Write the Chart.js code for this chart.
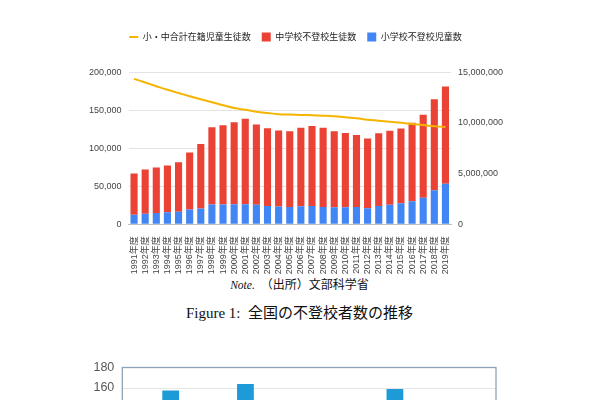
<!DOCTYPE html>
<html lang="ja">
<head>
<meta charset="utf-8">
<script src="https://cdn.jsdelivr.net/npm/chart.js@4.4.1/dist/chart.umd.min.js"></script>
<style>
  html, body { margin: 0; padding: 0; width: 599px; height: 400px; overflow: hidden; background: #fff; }
  #mainBox { position: absolute; left: 0; top: 0; width: 599px; height: 275px; }
  #subBox { position: absolute; left: 0; top: 351.5px; width: 599px; height: 220px; }
  .txt { position: absolute; left: 0; width: 599px; text-align: center; color: #111;
         font-family: "Liberation Serif", "DejaVu Serif", "Noto Sans CJK JP", serif; }
  .note { top: 275px; font-size: 12px; }
  .note i { font-size: 11.5px; }
  .cap { top: 301px; font-size: 15px; }
</style>
</head>
<body>
<div id="mainBox"><canvas id="main"></canvas></div>
<div class="txt note"><i>Note.</i>&nbsp; （出所）文部科学省</div>
<div class="txt cap">Figure 1:&nbsp; 全国の不登校者数の推移</div>
<div id="subBox"><canvas id="sub"></canvas></div>
<script>
// ===== データ =====
const years = ['1991年度','1992年度','1993年度','1994年度','1995年度','1996年度','1997年度','1998年度','1999年度','2000年度',
               '2001年度','2002年度','2003年度','2004年度','2005年度','2006年度','2007年度','2008年度','2009年度','2010年度',
               '2011年度','2012年度','2013年度','2014年度','2015年度','2016年度','2017年度','2018年度','2019年度'];

// 小学校不登校児童数
const elementary = [12645, 13710, 14769, 15786, 16569, 19498, 20765, 26017, 26047, 26373,
                    26511, 25869, 24077, 23318, 22709, 23825, 23927, 22652, 22327, 22463,
                    22622, 21243, 24175, 25864, 27583, 30448, 35032, 44841, 53350];

// 中学校不登校生徒数
const juniorHigh = [54172, 58421, 60039, 61663, 65022, 74853, 84701, 101675, 104180, 107913,
                    112211, 105383, 102149, 100040, 99578, 103069, 105328, 104153, 100105, 97428,
                    94836, 91446, 95442, 97033, 98408, 103235, 108999, 119687, 127922];

// 小・中合計在籍児童生徒数
const enrolled = [14345743, 13984066, 13619018, 13264037, 12940636, 12633029, 12336867, 12044137, 11744079, 11469796,
                  11288831, 11102176, 10975229, 10864446, 10823873, 10789901, 10747426, 10714159, 10663929, 10551542,
                  10461113, 10317282, 10213102, 10104340, 10008319, 9889544, 9781992, 9679537, 9586687];

const legendOrder = ['小・中合計在籍児童生徒数', '中学校不登校生徒数', '小学校不登校児童数'];

// 下の図（上端だけが見えている）
const subCategories = ['1', '2', '3', '4', '5'];
const subHidden = [null, null, null, null, null];       // 見えない系列
const subValues = [157.5, 164, null, 159, null];         // 見えている青い棒

const fontFamily = '"Liberation Sans", "Noto Sans CJK JP", sans-serif';

// ===== メインのグラフ =====
new Chart(document.getElementById('main'), {
    data: {
        labels: years,
        datasets: [
            {
                type: 'line',
                label: legendOrder[0],
                data: enrolled,
                yAxisID: 'y2',
                borderColor: '#f4b400',
                backgroundColor: '#f4b400',
                borderWidth: 2,
                pointRadius: 0,
                tension: 0.4,
                pointStyle: 'line'
            },
            {
                type: 'bar',
                label: legendOrder[2],
                data: elementary,
                yAxisID: 'y',
                backgroundColor: '#4285f4',
                pointStyle: 'rect',
                categoryPercentage: 1,
                barPercentage: 0.64
            },
            {
                type: 'bar',
                label: legendOrder[1],
                data: juniorHigh,
                yAxisID: 'y',
                backgroundColor: '#ea4335',
                pointStyle: 'rect',
                categoryPercentage: 1,
                barPercentage: 0.64
            }
        ]
    },
    options: {
        responsive: true,
        maintainAspectRatio: false,
        animation: false,
        layout: { padding: { left: 80, right: 88, top: 21.6, bottom: 0 } },
        plugins: {
            legend: {
                position: 'top',
                labels: {
                    usePointStyle: true,
                    pointStyleWidth: 9,
                    boxWidth: 9,
                    boxHeight: 9,
                    padding: 11,
                    color: '#222',
                    font: { size: 9, family: fontFamily },
                    sort: (a, b) => legendOrder.indexOf(a.text) - legendOrder.indexOf(b.text)
                }
            },
            // 凡例とグラフの間のすき間
            title: { display: true, text: ' ', weight: 500, font: { size: 1 }, padding: { top: 0, bottom: 19.4 } },
            tooltip: { enabled: false }
        },
        scales: {
            x: {
                stacked: true,
                grid: { display: false },
                border: { color: '#bdbdbd' },
                ticks: { minRotation: 90, maxRotation: 90, autoSkip: false, padding: 4, color: '#444', font: { size: 9, family: fontFamily } },
                afterFit: s => { s.height = 50.7; }
            },
            y: {
                stacked: true,
                min: 0,
                max: 200000,
                ticks: { stepSize: 50000, padding: 7, color: '#444', font: { size: 9, family: fontFamily },
                         callback: v => v.toLocaleString('en-US') },
                grid: { color: '#e3e3e3', drawTicks: false },
                border: { display: false },
                afterFit: s => { s.width = 48.5; }
            },
            y2: {
                position: 'right',
                min: 0,
                max: 15000000,
                ticks: { stepSize: 5000000, padding: 7, color: '#444', font: { size: 9, family: fontFamily },
                         callback: v => v.toLocaleString('en-US') },
                grid: { display: false, drawTicks: false },
                border: { display: false },
                afterFit: s => { s.width = 60; }
            }
        }
    }
});

// ===== 下のグラフ（枠線つき） =====
const frame = {
    id: 'frame',
    afterDraw(chart) {
        const a = chart.chartArea, ctx = chart.ctx;
        ctx.save();
        ctx.strokeStyle = '#8fa3b6';
        ctx.lineWidth = 1.3;
        ctx.strokeRect(a.left, a.top, a.right - a.left, a.bottom - a.top);
        ctx.restore();
    }
};

new Chart(document.getElementById('sub'), {
    type: 'bar',
    data: {
        labels: subCategories,
        datasets: [
            { data: subHidden, backgroundColor: '#a5a5a5', categoryPercentage: 0.59, barPercentage: 0.76 },
            { data: subValues, backgroundColor: '#1c9bd7', categoryPercentage: 0.59, barPercentage: 0.76 }
        ]
    },
    options: {
        responsive: true,
        maintainAspectRatio: false,
        animation: false,
        layout: { padding: { left: 80, right: 103, top: 7, bottom: 0 } },
        plugins: { legend: { display: false }, tooltip: { enabled: false } },
        scales: {
            x: { ticks: { display: false }, grid: { display: false }, border: { display: false },
                 afterFit: s => { s.height = 20; } },
            y: {
                min: 0,
                max: 180,
                ticks: { stepSize: 20, padding: 8, color: '#595959', font: { size: 12.5, family: fontFamily } },
                grid: { color: '#e6e6e6', drawTicks: false },
                border: { display: false },
                afterFit: s => { s.width = 42.3; }
            }
        }
    },
    plugins: [frame]
});
</script>
</body>
</html>
